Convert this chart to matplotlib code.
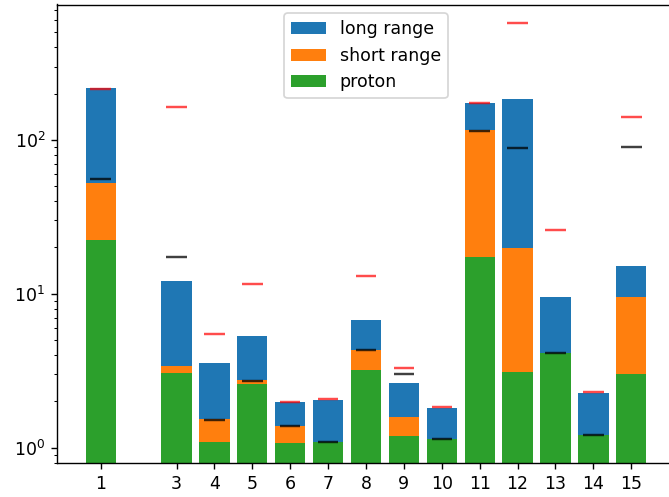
import matplotlib
matplotlib.use("Agg")
import matplotlib.pyplot as plt
import numpy as np

# --- values (log scale) ---
labels = [1, 3, 4, 5, 6, 7, 8, 9, 10, 11, 12, 13, 14, 15]
proton = [22.3, 3.06, 1.08, 2.61, 1.07, 1.08, 3.19, 1.19, 1.13, 17.4, 3.08, 4.13, 1.2, 3.03]
short_range = [30.6, 0.32, 0.45, 0.14, 0.32, 0.0, 1.11, 0.40, 0.0, 98.6, 16.8, 0.0, 0.0, 6.53]
long_range = [165.1, 8.82, 2.03, 2.59, 0.60, 0.97, 2.46, 1.04, 0.68, 59.0, 165.1, 5.43, 1.08, 5.54]
black_marks = [55.6, 17.3, 1.52, 2.73, 1.39, 1.08, 4.3, 3.0, 1.13, 115, 88.7, 4.13, 1.2, 90.4]
red_marks = [216, 165, 5.48, 11.5, 1.98, 2.06, 13.1, 3.3, 1.83, 175, 579, 25.8, 2.29, 142]

x = np.array(labels)
p = np.array(proton)
ps = p + np.array(short_range)
total = ps + np.array(long_range)

# reference looks like a default figure scaled up ~1.25x, so render at dpi 125
DPI = 125
fig = plt.figure(figsize=(669 / DPI, 497 / DPI), dpi=DPI)
# original image is a crop: axes run past the right edge, title is cut off
ax = fig.add_axes([57.5 / 669, 34.5 / 497, 617 / 669, 458 / 497])

ax.bar(x, total, width=0.8, color="#1f77b4", label="long range")
ax.bar(x, ps, width=0.8, color="#ff7f0e", label="short range")
ax.bar(x, p, width=0.8, color="#2ca02c", label="proton")

ax.hlines(black_marks, x - 0.27, x + 0.27, colors="black", linewidth=1.4, alpha=0.75)
ax.hlines(red_marks, x - 0.27, x + 0.27, colors="red", linewidth=1.4, alpha=0.7)

ax.set_yscale("log")
ax.set_ylim(0.8, 760)
ax.set_xlim(-0.14, 16.14)
ax.set_xticks(x)
ax.set_xticklabels([str(v) for v in labels])
ax.legend(loc="upper center")

fig.savefig("out.png", dpi=DPI)
